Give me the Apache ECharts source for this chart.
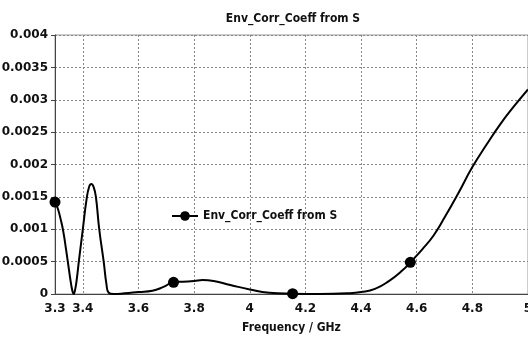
<!DOCTYPE html>
<html>
<head>
<meta charset="utf-8">
<script src="https://cdn.jsdelivr.net/npm/echarts@6/dist/echarts.min.js"></script>
<style>
html,body{margin:0;padding:0;background:#fff;}
#chart{width:528px;height:338px;}
</style>
</head>
<body>
<div id="chart"></div>
<script>
// 曲线数据 (GHz, 系数)
var freq = [3.3, 3.31, 3.32, 3.33, 3.34, 3.35, 3.358, 3.363, 3.367, 3.372, 3.378, 3.387, 3.4, 3.413, 3.423, 3.431, 3.439, 3.447, 3.459, 3.475, 3.485, 3.493, 3.51, 3.55, 3.6, 3.65, 3.69, 3.726, 3.76, 3.8, 3.83, 3.87, 3.93, 4.0, 4.07, 4.154, 4.25, 4.35, 4.4, 4.45, 4.5, 4.55, 4.577, 4.62, 4.66, 4.7, 4.75, 4.8, 4.85, 4.9, 4.95, 5.0];
var coeff = [0.00142, 0.00132, 0.00116, 0.00096, 0.00068, 0.00038, 0.00015, 0.00004, 0.0, 0.00006, 0.00022, 0.00055, 0.001, 0.00145, 0.00166, 0.0017, 0.00165, 0.0015, 0.001, 0.0005, 0.00015, 0.00002, 0.0, 0.00001, 0.00003, 0.00005, 0.00011, 0.00018, 0.00019, 0.0002, 0.000215, 0.0002, 0.00014, 0.00007, 0.00002, 0.000005, 0.0, 0.00001, 0.00003, 0.00008, 0.0002, 0.00037, 0.00049, 0.00069, 0.0009, 0.00118, 0.00156, 0.00196, 0.0023, 0.00262, 0.0029, 0.00316];
// 带圆点标记的频点
var markerFreq = [3.3, 3.726, 4.154, 4.577];
var xTickLabels = ['3.3', '3.4', '3.6', '3.8', '4', '4.2', '4.4', '4.6', '4.8', '5'];
var yTickLabels = ['0', '0.0005', '0.001', '0.0015', '0.002', '0.0025', '0.003', '0.0035', '0.004'];
var seriesName = 'Env_Corr_Coeff from S';

var lineData = [];
for (var i = 0; i < freq.length; i++) {
	var isMarker = markerFreq.indexOf(freq[i]) >= 0;
	lineData.push({
		value: [freq[i], coeff[i]],
		symbol: isMarker ? 'circle' : 'none'
	});
}

var chart = echarts.init(document.getElementById('chart'), null, {renderer: 'canvas'});
var boldFont = 'DejaVu Sans';
var condFont = 'DejaVu Sans Condensed';

var option = {
	animation: false,
	backgroundColor: '#fff',
	title: {
		text: seriesName,
		left: 288,
		textAlign: 'center',
		top: 8,
		textStyle: {fontFamily: condFont, fontWeight: 'bold', fontSize: 12, color: '#111'}
	},
	legend: {
		left: 166,
		top: 205,
		itemWidth: 26,
		itemHeight: 12,
		itemGap: 5,
		data: [seriesName],
		textStyle: {fontFamily: condFont, fontWeight: 'bold', fontSize: 12, color: '#111'}
	},
	grid: {
		left: 55, right: 0, top: 35, bottom: 44,
		outerBoundsMode: 'none',
		containLabel: false,
		show: true,
		borderColor: '#999',
		borderWidth: 1
	},
	xAxis: {
		type: 'value',
		min: 3.3,
		max: 5,
		interval: 0.1,
		name: 'Frequency / GHz',
		nameLocation: 'middle',
		nameGap: 28,
		nameTextStyle: {fontFamily: condFont, fontWeight: 'bold', fontSize: 12, color: '#111'},
		axisLine: {show: true, onZero: false, lineStyle: {color: '#444', width: 1}},
		axisTick: {show: false},
		axisLabel: {
			margin: 9,
			fontFamily: boldFont, fontWeight: 'bold', fontSize: 12, color: '#111',
			formatter: function (v) {
				var s = String(+v.toFixed(1));
				return xTickLabels.indexOf(s) >= 0 ? s : '';
			}
		},
		splitLine: {
			show: true,
			lineStyle: {color: ['rgba(0,0,0,0)', '#888'], type: [2, 2], width: 1}
		}
	},
	yAxis: {
		type: 'value',
		min: 0,
		max: 0.004,
		interval: 0.0005,
		axisLine: {show: true, lineStyle: {color: '#444', width: 1}},
		axisTick: {show: true, length: 4, lineStyle: {color: '#444'}},
		axisLabel: {
			margin: 7,
			fontFamily: boldFont, fontWeight: 'bold', fontSize: 12, color: '#111',
			formatter: function (v) {
				return yTickLabels[Math.round(v / 0.0005)];
			}
		},
		splitLine: {show: true, lineStyle: {color: '#888', type: [2, 2], width: 1}}
	},
	series: [{
		name: seriesName,
		type: 'line',
		smooth: 0.5,
		symbol: 'circle',
		symbolSize: 11,
		showSymbol: true,
		itemStyle: {color: '#000'},
		lineStyle: {color: '#000', width: 2},
		data: lineData
	}]
};
chart.setOption(option);
</script>
</body>
</html>
